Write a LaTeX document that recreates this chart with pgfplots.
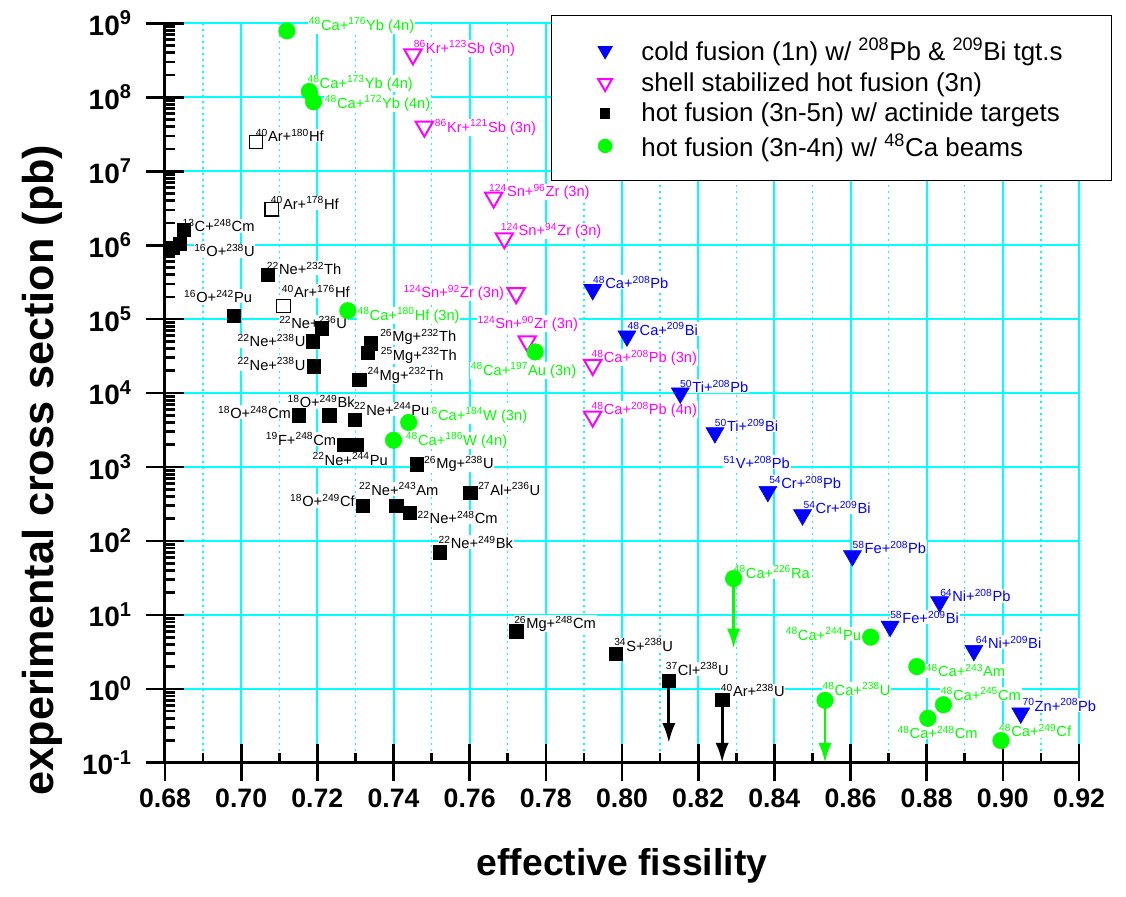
\documentclass[border=0pt]{standalone}
\usepackage{fontspec}
\setmainfont{Liberation Sans}
\usepackage{pgfplots}
\pgfplotsset{compat=1.18}
\usetikzlibrary{arrows.meta}
\definecolor{cgreen}{RGB}{0,255,0}
\definecolor{cblue}{RGB}{0,0,255}
\definecolor{cmag}{RGB}{255,0,255}
\definecolor{ccyan}{RGB}{0,255,255}
\newcommand{\is}[1]{\textsuperscript{#1}}
\newcommand{\ts}[1]{\raisebox{0.7ex}{\fontsize{15}{15}\selectfont\bfseries #1}}
\begin{document}
\begin{tikzpicture}[lab/.style={anchor=base west, text=#1, fill=white, inner sep=0.5pt, font=\fontsize{11}{13}\selectfont}]
\useasboundingbox (-123.75pt,-100pt) rectangle (720.75pt,572.1pt);
\begin{axis}[
  scale only axis, width=685.5pt, height=554.6pt,
  clip=false,
  xmin=0.68, xmax=0.92,
  ymode=log, log basis y=10, ymin=0.1, ymax=1e9,
  axis x line*=bottom, axis y line*=left,
  axis line style={-, line width=2.25pt, black},
  xtick={0.68,0.70,0.72,0.74,0.76,0.78,0.80,0.82,0.84,0.86,0.88,0.90,0.92},
  minor xtick={0.69,0.71,0.73,0.75,0.77,0.79,0.81,0.83,0.85,0.87,0.89,0.91},
  ytick={0.1,1,10,100,1000,1e4,1e5,1e6,1e7,1e8,1e9},
  yticklabels={10\ts{-1},10\ts{0},10\ts{1},10\ts{2},10\ts{3},10\ts{4},10\ts{5},10\ts{6},10\ts{7},10\ts{8},10\ts{9}},
  minor ytick={0.2,0.3,0.4,0.5,0.6,0.7,0.8,0.9,
    2,3,4,5,6,7,8,9,
    20,30,40,50,60,70,80,90,
    200,300,400,500,600,700,800,900,
    2e3,3e3,4e3,5e3,6e3,7e3,8e3,9e3,
    2e4,3e4,4e4,5e4,6e4,7e4,8e4,9e4,
    2e5,3e5,4e5,5e5,6e5,7e5,8e5,9e5,
    2e6,3e6,4e6,5e6,6e6,7e6,8e6,9e6,
    2e7,3e7,4e7,5e7,6e7,7e7,8e7,9e7,
    2e8,3e8,4e8,5e8,6e8,7e8,8e8,9e8},
  extra x ticks={0.68,0.70,0.72,0.74,0.76,0.78,0.80,0.82,0.84,0.86,0.88,0.90,0.92},
  extra x tick labels={},
  extra y ticks={0.1,1,10,100,1000,1e4,1e5,1e6,1e7,1e8,1e9},
  extra y tick labels={},
  extra tick style={grid=none, tick align=outside},
  tick align=inside,
  tick style={black, line width=2pt},
  major tick length=14pt, minor tick length=7.5pt,
  xmajorgrids=true, xminorgrids=true, ymajorgrids=true, yminorgrids=false,
  major grid style={ccyan, line width=1.5pt},
  minor grid style={ccyan, line width=1pt, dash pattern=on 1.5pt off 3pt},
  /pgf/number format/assume math mode=true,
  xticklabel style={/pgf/number format/fixed, /pgf/number format/fixed zerofill, /pgf/number format/precision=2, yshift=-15.8pt},
  yticklabel style={xshift=-22pt, font=\fontsize{21}{21}\selectfont\bfseries},
  xticklabel style={font=\fontsize{20}{20}\selectfont\bfseries},
  xlabel={effective fissility},
  ylabel={experimental cross section (pb)},
  xlabel style={at={(axis description cs:0.5,-0.1397)}, anchor=center, font=\fontsize{28}{28}\selectfont\bfseries},
  ylabel style={at={(axis description cs:-0.1346,0.3959)}, anchor=center, font=\fontsize{32.4}{32.4}\selectfont\bfseries},
  legend style={at={(axis description cs:0.4223,1.0112)}, anchor=north west, draw=black, line width=0.8pt, fill=white,
    font=\fontsize{19.4}{22}\selectfont, inner xsep=35pt, inner ysep=16pt, row sep=5.3pt, column sep=20pt,
    nodes={inner xsep=2pt, inner ysep=1pt}},
  legend cell align=left,
]
% ---------- labels: green
\node[lab=cgreen] at (axis description cs:0.1565,0.9909) {\is{48}Ca+\is{176}Yb (4n)};
\node[lab=cgreen] at (axis description cs:0.1550,0.9125) {\is{48}Ca+\is{173}Yb (4n)};
\node[lab=cgreen] at (axis description cs:0.1740,0.8854) {\is{48}Ca+\is{172}Yb (4n)};
\node[lab=cgreen] at (axis description cs:0.2097,0.5987) {\is{48}Ca+\is{180}Hf (3n)};
\node[lab=cgreen] at (axis description cs:0.2845,0.4635) {\is{48}Ca+\is{184}W (3n)};
\node[lab=cgreen] at (axis description cs:0.2626,0.4297) {\is{48}Ca+\is{186}W (4n)};
\node[lab=cgreen] at (axis description cs:0.3337,0.5243) {\is{48}Ca+\is{197}Au (3n)};
\node[lab=cgreen] at (axis description cs:0.6214,0.2498) {\is{48}Ca+\is{226}Ra};
\node[lab=cgreen] at (axis description cs:0.6783,0.1659) {\is{48}Ca+\is{244}Pu};
\node[lab=cgreen] at (axis description cs:0.8315,0.1163) {\is{48}Ca+\is{243}Am};
\node[lab=cgreen] at (axis description cs:0.7185,0.0916) {\is{48}Ca+\is{238}U};
\node[lab=cgreen] at (axis description cs:0.8479,0.0848) {\is{48}Ca+\is{245}Cm};
\node[lab=cgreen] at (axis description cs:0.8005,0.0330) {\is{48}Ca+\is{248}Cm};
\node[lab=cgreen] at (axis description cs:0.9117,0.0352) {\is{48}Ca+\is{249}Cf};
% ---------- labels: magenta
\node[lab=cmag] at (axis description cs:0.2713,0.9598) {\is{86}Kr+\is{123}Sb (3n)};
\node[lab=cmag] at (axis description cs:0.2943,0.8530) {\is{86}Kr+\is{121}Sb (3n)};
\node[lab=cmag] at (axis description cs:0.3537,0.7655) {\is{124}Sn+\is{96}Zr (3n)};
\node[lab=cmag] at (axis description cs:0.3665,0.7127) {\is{124}Sn+\is{94}Zr (3n)};
\node[lab=cmag] at (axis description cs:0.2601,0.6289) {\is{124}Sn+\is{92}Zr (3n)};
\node[lab=cmag] at (axis description cs:0.3410,0.5875) {\is{124}Sn+\is{90}Zr (3n)};
\node[lab=cmag] at (axis description cs:0.4658,0.5415) {\is{48}Ca+\is{208}Pb (3n)};
\node[lab=cmag] at (axis description cs:0.4658,0.4712) {\is{48}Ca+\is{208}Pb (4n)};
% ---------- labels: black
\node[lab=black] at (axis description cs:0.0985,0.8399) {\is{40}Ar+\is{180}Hf};
\node[lab=black] at (axis description cs:0.0183,0.7181) {\is{13}C+\is{248}Cm};
\node[lab=black] at (axis description cs:0.1149,0.7488) {\is{40}Ar+\is{178}Hf};
\node[lab=black] at (axis description cs:0.0310,0.6843) {\is{16}O+\is{238}U};
\node[lab=black] at (axis description cs:0.1105,0.6605) {\is{22}Ne+\is{232}Th};
\node[lab=black] at (axis description cs:0.1269,0.6294) {\is{40}Ar+\is{176}Hf};
\node[lab=black] at (axis description cs:0.0200,0.6227) {\is{16}O+\is{242}Pu};
\node[lab=black] at (axis description cs:0.1240,0.5875) {\is{22}Ne+\is{236}U};
\node[lab=black] at (axis description cs:0.0784,0.5626) {\is{22}Ne+\is{238}U};
\node[lab=black] at (axis description cs:0.2345,0.5694) {\is{26}Mg+\is{232}Th};
\node[lab=black] at (axis description cs:0.2352,0.5446) {\is{25}Mg+\is{232}Th};
\node[lab=black] at (axis description cs:0.0784,0.5311) {\is{22}Ne+\is{238}U};
\node[lab=black] at (axis description cs:0.2207,0.5176) {\is{24}Mg+\is{232}Th};
\node[lab=black] at (axis description cs:0.1332,0.4801) {\is{18}O+\is{249}Bk};
\node[lab=black] at (axis description cs:0.2060,0.4702) {\is{22}Ne+\is{244}Pu};
\node[lab=black] at (axis description cs:0.0572,0.4658) {\is{18}O+\is{248}Cm};
\node[lab=black] at (axis description cs:0.1094,0.4297) {\is{19}F+\is{248}Cm};
\node[lab=black] at (axis description cs:0.1605,0.4026) {\is{22}Ne+\is{244}Pu};
\node[lab=black] at (axis description cs:0.2826,0.3982) {\is{26}Mg+\is{238}U};
\node[lab=black] at (axis description cs:0.2115,0.3620) {\is{22}Ne+\is{243}Am};
\node[lab=black] at (axis description cs:0.3417,0.3620) {\is{27}Al+\is{236}U};
\node[lab=black] at (axis description cs:0.1360,0.3462) {\is{18}O+\is{249}Cf};
\node[lab=black] at (axis description cs:0.2754,0.3238) {\is{22}Ne+\is{248}Cm};
\node[lab=black] at (axis description cs:0.2984,0.2900) {\is{22}Ne+\is{249}Bk};
\node[lab=black] at (axis description cs:0.3811,0.1818) {\is{26}Mg+\is{248}Cm};
\node[lab=black] at (axis description cs:0.4905,0.1511) {\is{34}S+\is{238}U};
\node[lab=black] at (axis description cs:0.5470,0.1186) {\is{37}Cl+\is{238}U};
\node[lab=black] at (axis description cs:0.6072,0.0893) {\is{40}Ar+\is{238}U};
% ---------- labels: blue
\node[lab=cblue] at (axis description cs:0.4675,0.6416) {\is{48}Ca+\is{208}Pb};
\node[lab=cblue] at (axis description cs:0.5051,0.5784) {\is{48}Ca+\is{209}Bi};
\node[lab=cblue] at (axis description cs:0.5627,0.5010) {\is{50}Ti+\is{208}Pb};
\node[lab=cblue] at (axis description cs:0.6007,0.4477) {\is{50}Ti+\is{209}Bi};
\node[lab=cblue] at (axis description cs:0.6102,0.3982) {\is{51}V+\is{208}Pb};
\node[lab=cblue] at (axis description cs:0.6601,0.3711) {\is{54}Cr+\is{208}Pb};
\node[lab=cblue] at (axis description cs:0.6977,0.3373) {\is{54}Cr+\is{209}Bi};
\node[lab=cblue] at (axis description cs:0.7513,0.2832) {\is{58}Fe+\is{208}Pb};
\node[lab=cblue] at (axis description cs:0.8472,0.2177) {\is{64}Ni+\is{208}Pb};
\node[lab=cblue] at (axis description cs:0.7925,0.1885) {\is{58}Fe+\is{209}Bi};
\node[lab=cblue] at (axis description cs:0.8862,0.1547) {\is{64}Ni+\is{209}Bi};
\node[lab=cblue] at (axis description cs:0.9373,0.0699) {\is{70}Zn+\is{208}Pb};
% ---------- upper-limit arrows
\addplot[forget plot, black, line width=2.2pt, -{Latex[length=15pt,width=10pt]}] coordinates {(0.8123,1.3) (0.8123,0.185)};
\addplot[forget plot, black, line width=2.2pt, -{Latex[length=15pt,width=10pt]}] coordinates {(0.8263,0.71) (0.8263,0.1)};
\addplot[forget plot, cgreen, line width=2.2pt, -{Latex[length=15pt,width=10pt]}] coordinates {(0.8293,31) (0.8293,3.5)};
\addplot[forget plot, cgreen, line width=2.2pt, -{Latex[length=15pt,width=10pt]}] coordinates {(0.8533,0.70) (0.8533,0.1)};
% ---------- open squares
\addplot[forget plot, only marks, mark=square*, mark size=5pt, mark options={draw=black, fill=white, line width=0.9pt}] coordinates {
(0.7039,2.5e7) (0.7080,3.06e6) (0.7111,1.5e5)};
% ---------- cold fusion
\addplot[only marks, mark=triangle*, mark size=7.8pt, mark options={rotate=180, draw=cblue, fill=cblue},
  legend image post style={mark size=6pt}] coordinates {
(0.7923,2.5e5) (0.8013,5.9e4) (0.8153,1.0e4) (0.8244,2.9e3) (0.8383,466) (0.8474,225)
(0.8605,63) (0.8834,15) (0.8704,7.0) (0.8924,3.3) (0.9047,0.47)};
\addlegendentry{cold fusion (1n) w/ \is{208}Pb \& \is{209}Bi tgt.s}
% ---------- shell stabilized
\addplot[only marks, mark=triangle*, mark size=7.5pt, mark options={rotate=180, draw=cmag, fill=white, line width=1.5pt},
  legend image post style={mark size=6pt}] coordinates {
(0.7451,3.8e8) (0.7481,4.0e7) (0.7663,4.4e6) (0.7691,1.24e6) (0.7722,2.24e5) (0.7751,5.0e4)
(0.7923,2.4e4) (0.7923,4.8e3)};
\addlegendentry{shell stabilized hot fusion (3n)}
% ---------- hot fusion actinide
\addplot[only marks, mark=square*, mark size=5pt, mark options={draw=black, fill=black},
  legend image post style={mark size=3.4pt}] coordinates {
(0.6849,1.6e6) (0.6839,1.04e6) (0.6821,9.2e5) (0.7070,4.0e5) (0.6981,1.1e5) (0.7212,7.5e4)
(0.7188,5.0e4) (0.7190,2.3e4) (0.7341,4.7e4) (0.7332,3.5e4) (0.7310,1.5e4) (0.7231,5.0e3)
(0.7151,5.0e3) (0.7299,4.4e3) (0.7270,2.0e3) (0.7302,2.0e3) (0.7461,1.09e3) (0.7602,451)
(0.7320,301) (0.7407,300) (0.7442,242) (0.7521,70) (0.7722,6.0) (0.7983,3.0)
(0.8123,1.3) (0.8263,0.71)};
\addlegendentry{hot fusion (3n-5n) w/ actinide targets}
% ---------- hot fusion 48Ca
\addplot[only marks, mark=*, mark size=6.2pt, mark options={draw=cgreen, fill=cgreen},
  legend image post style={mark size=5pt}] coordinates {
(0.7120,7.9e8) (0.7179,1.2e8) (0.7190,8.7e7) (0.7280,1.3e5) (0.7440,4.0e3) (0.7400,2.3e3)
(0.7772,3.6e4) (0.8293,31) (0.8653,5.0) (0.8774,2.0) (0.8533,0.70) (0.8844,0.61)
(0.8803,0.40) (0.8995,0.20)};
\addlegendentry{hot fusion (3n-4n) w/ \is{48}Ca beams}
\end{axis}
\end{tikzpicture}
\end{document}
